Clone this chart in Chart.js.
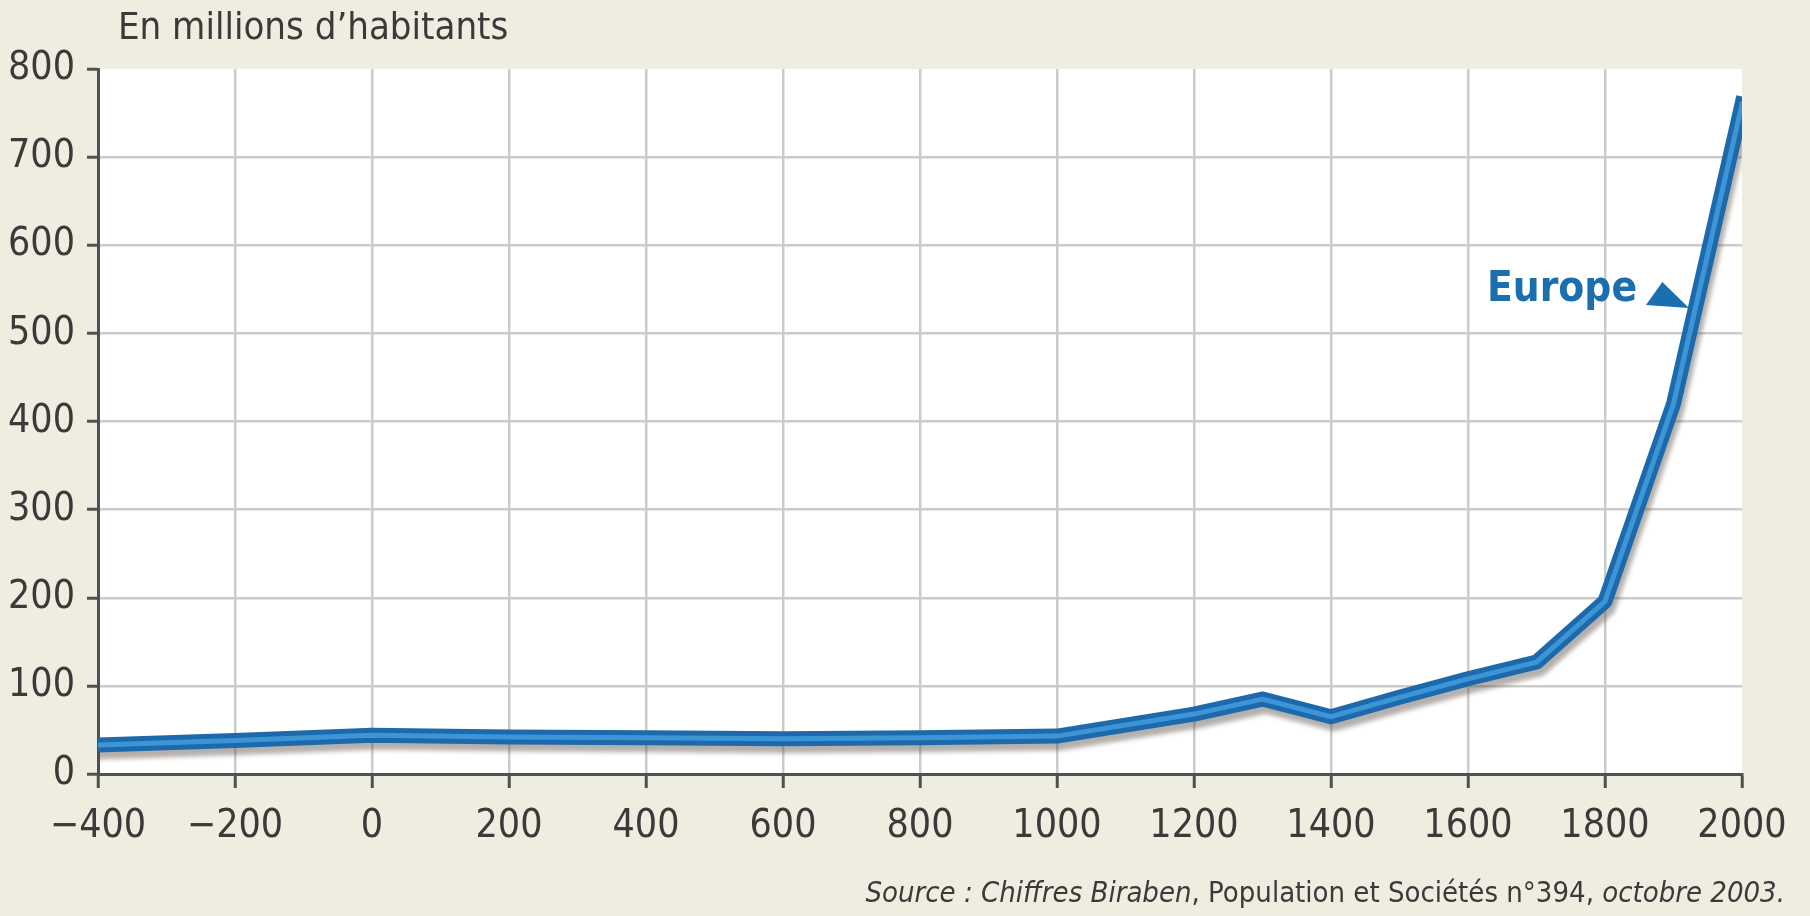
<!DOCTYPE html>
<html lang="fr">
<head>
<meta charset="utf-8">
<script src="https://cdn.jsdelivr.net/npm/chart.js@4"></script>
<style>
  body { margin: 0; background: #efece0; }
  #wrap { position: relative; width: 1810px; height: 916px; font-family: "DejaVu Sans Condensed", "Liberation Sans Narrow", sans-serif; color: #3a3a3a; }
  #titre { position: absolute; left: 118px; top: 4px; font-size: 38px; white-space: nowrap; }
  #source { position: absolute; right: 25px; top: 875px; font-size: 29px; white-space: nowrap; }
  #europe { position: absolute; left: 1487px; top: 262px; font-size: 42px; font-weight: bold; color: #1b6fae; }
  #fleche { position: absolute; left: 1646px; top: 282px; width: 43px; height: 26px; background: #1b6fae;
            clip-path: polygon(38% 0%, 0% 88%, 100% 100%); }
</style>
</head>
<body>
<div id="wrap">
  <canvas id="myChart" width="1810" height="916"></canvas>
  <div id="titre">En millions d’habitants</div>
  <div id="europe">Europe</div>
  <div id="fleche"></div>
  <div id="source"><i>Source : Chiffres Biraben</i>, Population et Sociétés n°394, <i>octobre 2003.</i></div>
</div>
<script>
// années et population de l'Europe (millions)
let annees = [-400, -200, 0, 200, 400, 600, 800, 1000, 1200, 1300, 1400, 1500, 1600, 1700, 1800, 1900, 2000];
let europe = [33, 38, 44, 42, 41, 40, 41, 43, 68, 85, 65, 87, 108, 127, 196, 420, 760];

let xMin = -400, xMax = 2000, xPas = 200;
let yMin = 0, yMax = 800, yPas = 100;

let points = annees.map((a, i) => ({ x: a, y: europe[i] }));

let fond = {
  id: "fond",
  beforeDraw(chart) {
    let a = chart.chartArea;
    chart.ctx.save();
    chart.ctx.fillStyle = "#ffffff";
    chart.ctx.fillRect(a.left, a.top, a.right - a.left, a.bottom - a.top);
    chart.ctx.restore();
  }
};

// ombre grise sous le trait épais (dataset 1, dessiné en premier)
let ombre = {
  id: "ombre",
  beforeDatasetDraw(chart, args) {
    if (args.index !== 1) return;
    let ctx = chart.ctx;
    ctx.save();
    ctx.shadowColor = "rgba(90, 80, 70, 0.45)";
    ctx.shadowOffsetX = 3;
    ctx.shadowOffsetY = 7;
    ctx.shadowBlur = 4;
  },
  afterDatasetDraw(chart, args) {
    if (args.index !== 1) return;
    chart.ctx.restore();
  }
};

let police = "'DejaVu Sans Condensed', 'Liberation Sans Narrow', sans-serif";

let chart = new Chart("myChart", {
  type: "line",
  data: {
    datasets: [{
      data: points,
      borderColor: "#3d95d8",
      borderWidth: 5,
      borderJoinStyle: "round",
      borderCapStyle: "square",
      pointRadius: 0,
      clip: 0
    },
    {
      data: points,
      borderColor: "#1c6aab",
      borderWidth: 15,
      borderJoinStyle: "round",
      borderCapStyle: "square",
      pointRadius: 0,
      clip: 0
    }]
  },
  options: {
    responsive: false,
    animation: false,
    layout: { padding: { top: 69, right: 68, bottom: 0, left: 0 } },
    plugins: { legend: { display: false }, tooltip: { enabled: false } },
    scales: {
      x: {
        type: "linear",
        min: xMin, max: xMax,
        ticks: {
          stepSize: xPas,
          color: "#3a3a3a",
          font: { family: police, size: 39 },
          padding: 15,
          maxRotation: 0,
          callback: v => String(v).replace("-", "\u2212")
        },
        grid: {
          color: c => (c.tick && c.tick.value === xMax) ? "rgba(0,0,0,0)" : "#cbcbcb",
          lineWidth: 2.5,
          tickColor: "#505050",
          tickWidth: 3,
          tickLength: 14
        },
        border: { color: "#505050", width: 3 },
        afterFit: s => { s.height = 142; }
      },
      y: {
        min: yMin, max: yMax,
        ticks: {
          stepSize: yPas,
          color: "#3a3a3a",
          font: { family: police, size: 39 },
          padding: 12
        },
        grid: {
          color: c => (c.tick && c.tick.value === yMax) ? "rgba(0,0,0,0)" : "#cbcbcb",
          lineWidth: 2.5,
          tickColor: "#505050",
          tickWidth: 3,
          tickLength: 11
        },
        border: { color: "#505050", width: 3 },
        afterFit: s => { s.width = 98; }
      }
    }
  },
  plugins: [fond, ombre]
});
</script>
</body>
</html>
